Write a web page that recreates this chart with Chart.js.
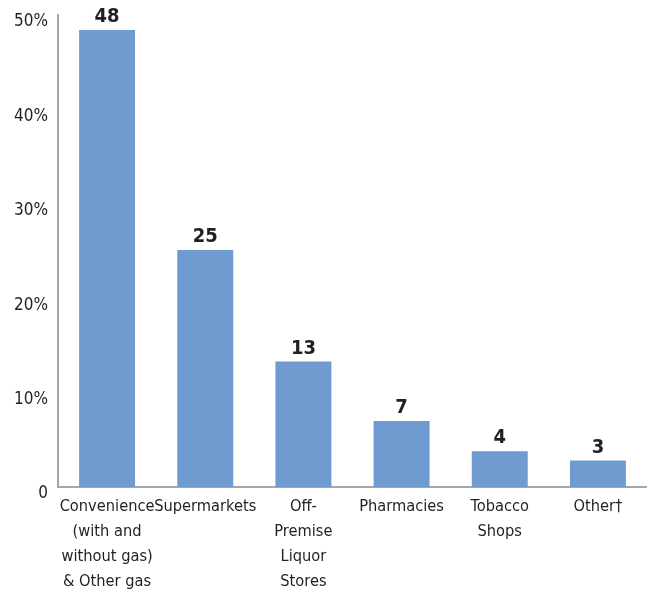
<!DOCTYPE html>
<html>
<head>
<meta charset="utf-8">
<script src="https://cdn.jsdelivr.net/npm/chart.js@4"></script>
<style>
html,body{margin:0;padding:0;background:#fff;}
#wrap{width:647px;height:590px;position:relative;}
</style>
</head>
<body>
<div id="wrap"><canvas id="c" width="647" height="590"></canvas></div>
<script>
const categories = [
  ["Convenience", "(with and", "without gas)", "& Other gas"],
  ["Supermarkets"],
  ["Off-", "Premise", "Liquor", "Stores"],
  ["Pharmacies"],
  ["Tobacco", "Shops"],
  ["Other\u2020"]
];
const values = [48.4, 25.1, 13.3, 7.0, 3.8, 2.8];
const valueLabels = ["48", "25", "13", "7", "4", "3"];
const yTicks = [0, 10, 20, 30, 40, 50];

const FONT = '"Liberation Sans Narrow", "DejaVu Sans Condensed", "Liberation Sans", sans-serif';
const TEXT = '#231f20';

const valueLabelPlugin = {
  id: 'valueLabels',
  afterDatasetsDraw(chart) {
    const ctx = chart.ctx;
    const meta = chart.getDatasetMeta(0);
    ctx.save();
    ctx.font = 'bold 20px ' + FONT;
    ctx.fillStyle = TEXT;
    ctx.textAlign = 'center';
    ctx.textBaseline = 'bottom';
    meta.data.forEach((bar, i) => {
      ctx.fillText(valueLabels[i], bar.x, bar.y - 3);
    });
    ctx.restore();
  }
};

new Chart(document.getElementById('c'), {
  type: 'bar',
  data: {
    labels: categories,
    datasets: [{
      data: values,
      backgroundColor: '#709BD1',
      borderWidth: 0,
      barPercentage: 0.57,
      categoryPercentage: 1.0
    }]
  },
  options: {
    responsive: false,
    animation: false,
    layout: { padding: { top: 15, right: 0, left: 0, bottom: 0 } },
    plugins: { legend: { display: false }, tooltip: { enabled: false } },
    scales: {
      x: {
        grid: { display: false, drawTicks: false },
        border: { display: true, color: '#a6a6a6', width: 2 },
        ticks: {
          color: TEXT,
          font: { family: FONT, size: 16.3, lineHeight: 1.53 },
          padding: 7,
          maxRotation: 0,
          autoSkip: false
        },
        afterFit(scale) { scale.height = 103; scale.paddingLeft = 0; scale.paddingRight = 0; }
      },
      y: {
        min: 0,
        max: 50,
        afterBuildTicks(scale) { scale.ticks = yTicks.map(v => ({ value: v })); },
        grid: { display: false, drawTicks: false },
        border: { display: true, color: '#a6a6a6', width: 2 },
        ticks: {
          color: TEXT,
          font: { family: FONT, size: 17 },
          padding: 10,
          labelOffset: 7,
          callback: (v) => v === 0 ? '0' : v + '%'
        },
        afterFit(scale) { scale.width = 58; scale.paddingTop = 0; scale.paddingBottom = 0; }
      }
    }
  },
  plugins: [valueLabelPlugin]
});
</script>
</body>
</html>
